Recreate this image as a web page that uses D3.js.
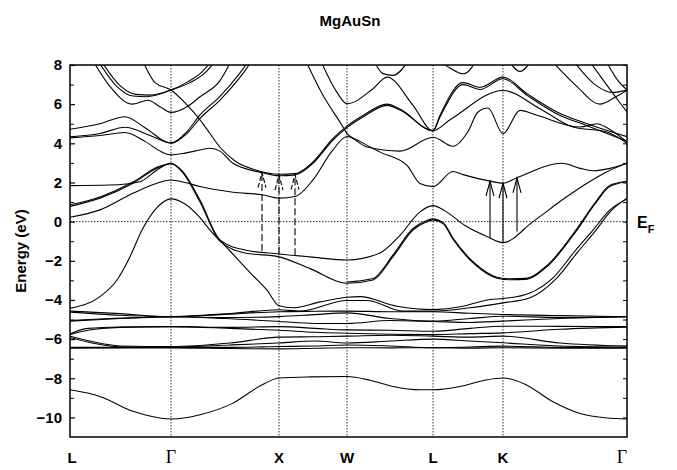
<!DOCTYPE html>
<html>
<head>
<meta charset="utf-8">
<script src="https://cdn.jsdelivr.net/npm/d3@7"></script>
<style>
body { margin: 0; background: #fff; }
svg text { font-family: "Liberation Sans", Arial, sans-serif; font-weight: bold; }
</style>
</head>
<body>
<svg id="chart1" width="677" height="470"></svg>
<script>
// high symmetry points along the path (k in arbitrary path units)
var kTicks = [0, 101, 209, 277, 363, 433, 557];
var kLabels = ["L", "Γ", "X", "W", "L", "K", "Γ"];
var yMajor = [8, 6, 4, 2, 0, -2, -4, -6, -8, -10];
var yMinor = [7, 5, 3, 1, -1, -3, -5, -7, -9];

// bands, [k, E(eV)]
var bandS = [[0,-8.59],[30,-8.93],[63,-9.69],[101,-10.08],[130,-9.86],[163,-9.27],[190,-8.4],[209,-7.99],[240,-7.93],[277,-7.91],[300,-8.1],[323,-8.42],[350,-8.59],[363,-8.59],[390,-8.42],[415,-8.1],[433,-7.99],[455,-8.3],[483,-9.2],[510,-9.8],[537,-10.03],[557,-10.08]];
var bandV1 = [[0,-4.42],[30,-3.83],[47,-2.98],[60,-1.79],[72,-0.43],[85,0.6],[101,1.16],[115,0.9],[130,0.2],[140,-0.43],[160,-1.5],[180,-2.6],[197,-3.5],[209,-4.3],[223,-4.4],[250,-4.1],[277,-3.86],[290,-3.83],[327,-4.32],[363,-4.49],[393,-4.32],[420,-3.98],[433,-3.93],[460,-3.64],[483,-2.87],[505,-1.5],[523,-0.43],[540,0.6],[557,1.16]];
var bandV1b = [[0,-5.05],[40,-4.95],[101,-4.86],[160,-4.7],[209,-4.5],[230,-4.57],[277,-4.03],[297,-4.03],[333,-4.57],[363,-4.57],[400,-4.4],[433,-4.15],[460,-3.89],[487,-2.87],[507,-1.6],[525,-0.5],[541,0.55],[557,1.2]];
var bandC2 = [[0,1.84],[40,1.87],[70,2.04],[87,2.64],[101,2.98],[112,2.6],[130,1.1],[150,-0.93],[175,-1.45],[209,-1.65],[240,-1.8],[277,-1.96],[310,-1.6],[330,-0.7],[350,0.5],[363,0.82],[375,0.55],[395,-0.2],[417,-0.76],[433,-1.07],[463,0],[497,1.28],[517,1.96],[537,2.55],[557,2.98]];
var bandB2 = [[0,0.78],[30,1.2],[63,1.96],[87,2.73],[101,2.96],[112,2.55],[130,1.0],[150,-1.0],[175,-1.6],[209,-1.8],[240,-2.4],[277,-3.15],[303,-2.98],[323,-1.79],[343,-0.43],[355,-0.05],[363,0.09],[373,-0.1],[383,-0.9],[405,-2.2],[427,-2.89],[440,-2.97],[455,-2.95],[477,-2.3],[507,-0.43],[525,0.9],[540,1.8],[557,2.04]];
var bandB2b = [[0,0.86],[30,1.26],[63,2.02],[87,2.78],[101,2.98]];
var bandB2c = [[277,-3.08],[303,-2.9],[323,-1.7],[343,-0.35],[355,0.02],[363,0.14],[373,-0.04],[383,-0.84],[405,-2.14],[427,-2.84],[440,-2.92],[455,-2.9],[477,-2.24],[507,-0.36],[525,0.96],[540,1.86],[557,2.06]];
var bandC1 = [[0,0.22],[30,0.6],[63,1.45],[87,1.96],[101,2.13],[115,2.0],[130,1.79],[163,1.5],[192,1.37],[209,1.2],[225,1.28],[243,2.13],[262,3.6],[277,4.35],[297,3.81],[330,3.6],[363,4.31],[383,3.85],[398,4.6],[408,5.6],[418,5.8],[433,4.49],[450,5.68],[467,5.43],[510,4.83],[527,5.0],[537,4.8],[557,4.07]];
var bandC3 = [[0,4.28],[30,4.4],[55,4.55],[75,4.1],[92,3.55],[101,3.41],[115,3.5],[130,3.66],[140,3.75],[150,3.6],[163,2.98],[192,2.5],[209,2.34],[225,2.39],[243,2.98],[263,4.17],[277,4.8],[293,5.34],[317,5.94],[330,5.7],[363,4.65],[380,5.2],[433,6.7],[470,5.77],[503,4.83],[537,4.58],[557,4.0]];
var bandT3 = [[72,8.3],[85,7.1],[101,6.72],[117,5.96],[130,5.2],[140,4.5],[150,3.8],[165,3.1],[185,2.65],[209,2.42],[225,2.45],[243,3.05],[263,4.25],[277,4.88],[293,5.42],[317,6.0],[330,5.75],[363,4.65],[370,5.35],[393,7.0],[410,6.75],[433,7.3],[457,6.45],[487,5.5],[517,4.9],[557,4.1]];
var bandAlpha = [[250,8.3],[267,6.6],[277,6.02],[303,6.79],[317,7.38],[343,5.94],[363,4.63],[370,5.43],[393,7.1],[410,6.86],[433,7.38],[457,6.53],[487,5.6],[517,5.0],[557,4.34]];
var bandBeta = [[235,8.3],[253,6.45],[272,4.92],[277,4.5],[290,4.1],[310,3.55],[337,2.87],[350,1.95],[363,1.79],[383,2.56],[393,2.4],[420,2.07],[433,1.96],[447,2.24],[492,2.98],[510,2.72],[523,2.6],[540,2.72],[557,2.98]];
var bandR4a = [[0,4.72],[30,5.0],[55,5.36],[75,4.8],[101,4.0],[117,4.5],[130,5.27],[150,6.21],[173,7.57],[183,8.3]];
var bandR4b = [[0,4.33],[30,4.5],[55,4.82],[80,4.4],[101,4.02],[117,4.6],[130,5.45],[150,6.4],[170,7.6],[180,8.3]];
var bandT1 = [[22,8.3],[40,6.9],[62,6.0],[78,6.2],[90,5.87],[101,5.58],[117,5.87],[130,6.38],[150,7.2],[162,8.3]];
var bandT2 = [[27,8.3],[47,6.9],[63,6.42],[77,6.38],[101,6.72],[120,7.1],[135,7.6],[147,8.3]];
var bandT2b = [[30,8.3],[50,6.95],[66,6.5],[80,6.46],[101,6.72],[118,7.15],[132,7.65],[143,8.3]];
var bandR1 = [[480,8.3],[505,7.0],[530,6.0],[545,6.35],[557,6.7]];
var bandR2 = [[502,8.3],[525,7.0],[542,6.6],[557,6.72]];
var bandR3 = [[518,8.3],[535,7.1],[548,6.2],[557,5.6]];
var bandR5 = [[535,8.3],[548,7.2],[557,6.72]];
var bandP1 = [[305,8.1],[313,7.56],[323,7.47],[337,8.1]];
var bandP2 = [[370,8.2],[380,7.85],[393,7.55],[402,7.89],[405,8.2]];
var bandP3 = [[438,8.3],[450,7.67],[462,8.3]];
var bandD2 = [[0,-4.57],[50,-4.7],[101,-4.86],[150,-4.75],[209,-4.6],[245,-4.58],[277,-4.57],[320,-4.6],[363,-4.6],[400,-4.68],[433,-4.74],[490,-4.8],[557,-4.86]];
var bandD3 = [[0,-4.62],[50,-4.78],[101,-4.86],[155,-4.9],[209,-4.85],[245,-4.75],[277,-4.66],[320,-4.95],[363,-5.08],[400,-4.95],[433,-4.83],[490,-4.9],[557,-4.86]];
var bandD4 = [[0,-5.08],[50,-4.95],[101,-4.86],[155,-4.95],[209,-5.1],[245,-5.2],[277,-5.2],[320,-5.05],[363,-5.1],[400,-5.15],[433,-5.08],[490,-4.95],[557,-4.86]];
var bandD5 = [[0,-5.73],[18,-5.45],[50,-5.38],[101,-5.36],[160,-5.4],[209,-5.36],[245,-5.45],[277,-5.53],[320,-5.55],[363,-5.6],[400,-5.45],[433,-5.34],[490,-5.35],[557,-5.36]];
var bandD6 = [[0,-5.77],[18,-5.55],[50,-5.4],[101,-5.36],[160,-5.45],[209,-5.55],[245,-5.65],[277,-5.7],[320,-5.75],[363,-5.77],[400,-5.72],[433,-5.68],[490,-5.5],[557,-5.39]];
var bandD7 = [[0,-5.85],[20,-6.1],[50,-6.35],[101,-6.38],[160,-6.2],[209,-5.9],[245,-5.88],[277,-5.85],[320,-5.8],[363,-5.85],[400,-5.9],[433,-5.85],[490,-6.2],[557,-6.36]];
var bandD8 = [[0,-5.92],[22,-6.2],[55,-6.4],[101,-6.4],[160,-6.3],[209,-6.2],[245,-6.1],[277,-6.2],[320,-6.1],[363,-6.0],[400,-6.1],[433,-6.19],[490,-6.35],[557,-6.4]];
var bandD9 = [[0,-6.42],[101,-6.42],[160,-6.42],[209,-6.38],[245,-6.35],[277,-6.3],[320,-6.35],[363,-6.44],[400,-6.4],[433,-6.36],[490,-6.42],[557,-6.44]];
var bandD10 = [[0,-6.46],[101,-6.45],[160,-6.48],[209,-6.5],[245,-6.47],[277,-6.44],[320,-6.45],[363,-6.44],[400,-6.46],[433,-6.44],[490,-6.46],[557,-6.46]];

// transitions [k, E from, E to]
var dashedArrows = [[192,-1.5,2.5],[209,-1.65,2.38],[225,-1.72,2.4]];
var solidArrows = [[420,-0.85,2.07],[433,-1.07,1.96],[447,-0.5,2.24]];

var bands = [bandS, bandV1, bandV1b, bandC2, bandB2, bandB2b, bandB2c, bandC1, bandC3, bandT3,
  bandAlpha, bandBeta, bandR4a, bandR4b, bandT1, bandT2, bandT2b, bandR1, bandR2, bandR3, bandR5,
  bandP1, bandP2, bandP3, bandD2, bandD3, bandD4, bandD5, bandD6, bandD7, bandD8, bandD9, bandD10];

var margin = { top: 65, left: 70, bottom: 33, right: 50 };
var width = 557, height = 372;
var svg = d3.select('#chart1');
var g = svg.append('g').attr('transform', 'translate(' + margin.left + ',' + margin.top + ')');

var x = d3.scaleLinear().domain([0, 557]).range([0, width]);
var y = d3.scaleLinear().domain([-11, 8]).range([height, 0]);

svg.append('defs').append('clipPath').attr('id', 'clip')
  .append('rect').attr('width', width).attr('height', height);

// dotted guides
g.selectAll('.vgrid').data(kTicks.slice(1, 6)).enter().append('line')
  .attr('x1', function (d) { return x(d); }).attr('x2', function (d) { return x(d); })
  .attr('y1', 0).attr('y2', height)
  .attr('stroke', '#333').attr('stroke-width', 1).attr('stroke-dasharray', '1.5,1.5');
g.append('line')
  .attr('x1', 0).attr('x2', width).attr('y1', y(0)).attr('y2', y(0))
  .attr('stroke', '#333').attr('stroke-width', 1).attr('stroke-dasharray', '1.5,1.5');

var line = d3.line()
  .x(function (d) { return x(d[0]); })
  .y(function (d) { return y(d[1]); })
  .curve(d3.curveMonotoneX);

g.append('g').attr('clip-path', 'url(#clip)')
  .selectAll('path').data(bands).enter().append('path')
  .attr('d', line)
  .attr('fill', 'none')
  .attr('stroke', '#000')
  .attr('stroke-width', 1.1);

// arrows
function arrows(data, dash) {
  var a = g.append('g').attr('stroke', '#000').attr('fill', 'none').attr('stroke-width', 1.1);
  a.selectAll('line').data(data).enter().append('line')
    .attr('x1', function (d) { return x(d[0]); }).attr('x2', function (d) { return x(d[0]); })
    .attr('y1', function (d) { return y(d[1]); }).attr('y2', function (d) { return y(d[2]) + 1; })
    .attr('stroke-dasharray', dash);
  a.selectAll('path').data(data).enter().append('path')
    .attr('d', function (d) {
      var px = x(d[0]), py = y(d[2]);
      return 'M' + (px - 4) + ',' + (py + 15) + 'L' + px + ',' + py + 'L' + (px + 4) + ',' + (py + 15);
    })
    .attr('stroke-dasharray', dash ? '5,2' : null);
}
arrows(dashedArrows, '7,3');
arrows(solidArrows, null);

// frame
g.append('rect').attr('width', width).attr('height', height)
  .attr('fill', 'none').attr('stroke', '#000').attr('stroke-width', 1.5);

// y axis (ticks inward on both sides)
var yAxis = d3.axisLeft(y).tickValues(yMajor).tickSize(-5).tickPadding(8).tickFormat(d3.format('d'));
var ya = g.append('g').call(yAxis);
ya.select('.domain').remove();
ya.selectAll('text').attr('font-size', '15px').attr('fill', '#000')
  .style('font-family', '"Liberation Sans", Arial, sans-serif').style('font-weight', 'bold');
ya.selectAll('line').attr('stroke-width', 1.2);
var ym = g.append('g').call(d3.axisLeft(y).tickValues(yMinor).tickSize(-4).tickFormat(''));
ym.select('.domain').remove();
var yr = g.append('g').attr('transform', 'translate(' + width + ',0)')
  .call(d3.axisRight(y).tickValues(yMajor.concat(yMinor)).tickSize(-4).tickFormat(''));
yr.select('.domain').remove();

// k labels
g.selectAll('.klab').data(kTicks).enter().append('text')
  .attr('x', function (d, i) { return x(d) + (i === 0 ? 2 : (i === 6 ? -5 : 0)); })
  .attr('y', height + 26)
  .attr('text-anchor', 'middle')
  .style('font-family', function (d, i) { return kLabels[i] === 'Γ' ? '"Liberation Serif", "DejaVu Serif", serif' : null; })
  .style('font-weight', function (d, i) { return kLabels[i] === 'Γ' ? 'normal' : 'bold'; })
  .attr('font-size', function (d, i) { return kLabels[i] === 'Γ' ? '18px' : '15px'; })
  .text(function (d, i) { return kLabels[i]; });

// titles
svg.append('text').attr('x', 350).attr('y', 26).attr('text-anchor', 'middle')
  .attr('font-size', '15px').text('MgAuSn');
svg.append('text').attr('transform', 'rotate(-90)')
  .attr('x', -251).attr('y', 26).attr('text-anchor', 'middle')
  .attr('font-size', '15px').text('Energy (eV)');
var ef = svg.append('text').attr('x', 637).attr('y', 228).attr('font-size', '16px');
ef.append('tspan').text('E');
ef.append('tspan').attr('font-size', '11px').attr('dy', 5).text('F');
</script>
</body>
</html>
